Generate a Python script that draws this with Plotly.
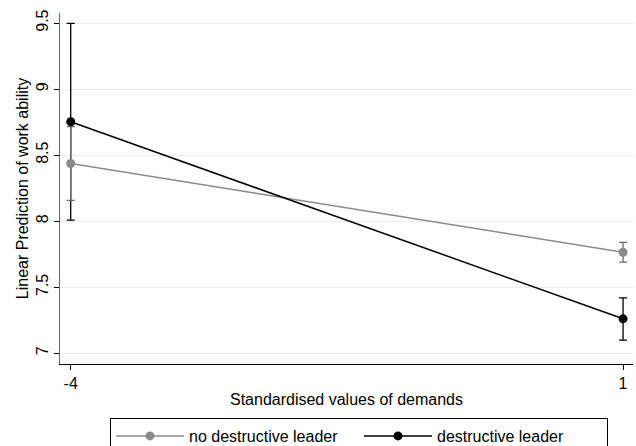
import plotly.graph_objects as go

# Data
demands = [-4, 1]
x_tick_vals = [-4, 1]
x_tick_text = ["-4", "1"]
y_tick_vals = [7, 7.5, 8, 8.5, 9, 9.5]
y_tick_text = ["7", "7.5", "8", "8.5", "9", "9.5"]

no_destr = [8.437, 7.765]
no_destr_lo = [8.157, 7.69]
no_destr_hi = [8.716, 7.84]

destr = [8.753, 7.261]
destr_lo = [8.008, 7.10]
destr_hi = [9.498, 7.42]

series_names = ["no destructive leader", "destructive leader"]
GRAY = "#8a8a8a"
BLACK = "#000000"

fig = go.Figure()

def ci_trace(y, lo, hi, color):
    return go.Scatter(
        x=demands, y=y, mode="markers",
        marker=dict(size=1, color="rgba(0,0,0,0)"),
        error_y=dict(type="data", symmetric=False,
                     array=[h - v for h, v in zip(hi, y)],
                     arrayminus=[v - l for v, l in zip(y, lo)],
                     color=color, thickness=1.3, width=4),
        showlegend=False, hoverinfo="skip")

fig.add_trace(ci_trace(destr, destr_lo, destr_hi, BLACK))
fig.add_trace(ci_trace(no_destr, no_destr_lo, no_destr_hi, "#6a6a6a"))

fig.add_trace(go.Scatter(
    x=demands, y=no_destr, mode="lines+markers", name=series_names[0],
    line=dict(color=GRAY, width=1.5), marker=dict(color=GRAY, size=9),
    legendrank=1))
fig.add_trace(go.Scatter(
    x=demands, y=destr, mode="lines+markers", name=series_names[1],
    line=dict(color=BLACK, width=1.5), marker=dict(color=BLACK, size=9),
    legendrank=2))

FONT = "Liberation Sans, Arial, sans-serif"

fig.update_layout(
    width=636, height=446,
    margin=dict(l=60, r=3, t=13, b=82, autoexpand=False),
    paper_bgcolor="white", plot_bgcolor="white",
    font=dict(family=FONT, size=16, color="black"),
    xaxis=dict(
        range=[-4.097, 1.09], tickvals=x_tick_vals, ticktext=x_tick_text,
        showgrid=False, zeroline=False, showline=True, linecolor="black",
        linewidth=1, ticks="outside", ticklen=5, tickcolor="black",
        tickfont=dict(size=16), automargin=False,
        title=dict(text="Standardised values of demands", standoff=2,
                   font=dict(size=16)),
    ),
    yaxis=dict(
        range=[6.919, 9.576], tickvals=y_tick_vals, ticktext=y_tick_text,
        showgrid=True, gridcolor="#E6EEF0", gridwidth=1,
        zeroline=False, showline=True, linecolor="#666666", linewidth=1,
        ticks="outside", ticklen=5, tickcolor="black", tickangle=-90,
        tickfont=dict(size=16), automargin=False,
        title=dict(text="Linear Prediction of work ability", standoff=0,
                   font=dict(size=16)),
    ),
    legend=dict(
        orientation="h", x=110 / 636, xref="container", xanchor="left",
        y=(446 - 418) / 446, yref="container", yanchor="top",
        bordercolor="black", borderwidth=1, bgcolor="white",
        font=dict(size=16), itemwidth=68, entrywidth=165,
        entrywidthmode="pixels", traceorder="normal",
    ),
)

fig.write_html("out.html", config={"displayModeBar": False},
               post_script="document.body.style.margin='0';document.body.style.overflow='hidden';")
